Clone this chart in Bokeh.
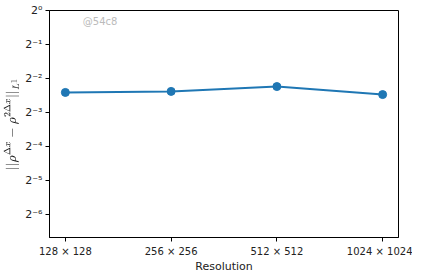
from bokeh.plotting import figure
from bokeh.models import Range1d, FixedTicker, CustomJSTickFormatter, Label
from bokeh.embed import file_html
from bokeh.resources import INLINE

# data
resolutions = [128, 256, 512, 1024]
tick_labels = [f"{r} \u00d7 {r}" for r in resolutions]
l1_error = [0.188, 0.192, 0.212, 0.180]
y_exponents = [-6, -5, -4, -3, -2, -1, 0]

x = list(range(len(resolutions)))

p = figure(frame_width=349, frame_height=227, output_backend="svg", toolbar_location=None,
           y_axis_type="log",
           x_range=Range1d(-0.15, len(resolutions) - 1 + 0.15),
           y_range=Range1d(2 ** -6.68, 2 ** 0),
           min_border_left=44, min_border_right=14, min_border_top=10, min_border_bottom=20)

p.line(x, l1_error, line_color="#1f77b4", line_width=2)
p.scatter(x, l1_error, size=8, fill_color="#1f77b4", line_color="#1f77b4")

p.xgrid.visible = False
p.ygrid.visible = False
p.outline_line_color = "black"
p.outline_line_width = 1
p.background_fill_color = "white"
p.border_fill_color = "white"

p.xaxis.ticker = FixedTicker(ticks=x)
p.xaxis.major_label_overrides = {i: lab for i, lab in zip(x, tick_labels)}
p.yaxis.ticker = FixedTicker(ticks=[2.0 ** k for k in y_exponents])
p.yaxis.formatter = CustomJSTickFormatter(code="""
const sup = {'-':'\u207b','0':'\u2070','1':'\u00b9','2':'\u00b2','3':'\u00b3','4':'\u2074','5':'\u2075','6':'\u2076','7':'\u2077','8':'\u2078','9':'\u2079'};
const e = Math.round(Math.log2(tick));
return '2' + String(e).split('').map(c => sup[c]).join('');
""")

for ax in (p.xaxis, p.yaxis):
    ax.minor_tick_line_color = None
    ax.major_tick_in = 0
    ax.major_tick_out = 4
    ax.axis_line_color = "black"
    ax.major_tick_line_color = "black"
    ax.major_label_text_font = "DejaVu Sans"
    ax.major_label_text_font_size = "10px"
    ax.major_label_text_color = "#222222"
    ax.axis_label_text_font = "DejaVu Sans"
    ax.axis_label_text_font_size = "11px"
    ax.axis_label_text_font_style = "normal"
    ax.axis_label_text_color = "#222222"

p.yaxis.major_label_text_font_size = "11px"
p.yaxis.major_label_standoff = 3
p.xaxis.major_label_standoff = 4
p.xaxis.axis_label = "Resolution"
p.xaxis.axis_label_standoff = 0
p.yaxis.axis_label = r"$$||\rho^{\Delta x} - \rho^{2\Delta x}||_{L^1}$$"
p.yaxis.axis_label_standoff = 3

wm = Label(x=0.165, y=2 ** -0.33, text="@54c8", text_font="DejaVu Sans",
           text_font_size="10px", text_color="#bbbbbb", text_baseline="middle")
p.add_layout(wm)

open("out.html", "w").write(file_html(p, INLINE))
